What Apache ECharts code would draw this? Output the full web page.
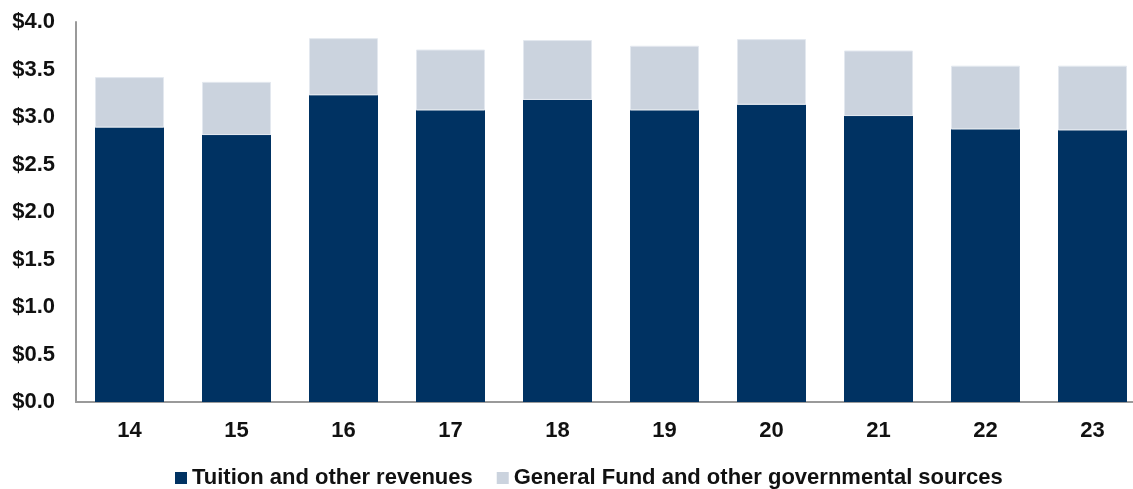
<!DOCTYPE html>
<html>
<head>
<meta charset="utf-8">
<script src="https://cdn.jsdelivr.net/npm/echarts@6/dist/echarts.min.js"></script>
<style>
  html, body { margin: 0; padding: 0; background: #ffffff; overflow: hidden; }
  #wrap { width: 1133px; height: 489px; overflow: hidden; }
  /* the plot runs slightly past the right edge of the frame */
  #chart { width: 1146px; height: 489px; }
</style>
</head>
<body>
<div id="wrap"><div id="chart"></div></div>
<script>
// Fiscal years (two-digit)
const years = ['14', '15', '16', '17', '18', '19', '20', '21', '22', '23'];
// Tuition and other revenues ($ billions)
const tuition = [2.89, 2.81, 3.23, 3.07, 3.18, 3.07, 3.13, 3.01, 2.87, 2.86];
// General Fund and other governmental sources ($ billions)
const generalFund = [0.53, 0.56, 0.60, 0.64, 0.63, 0.68, 0.69, 0.69, 0.67, 0.68];
// Value axis ticks
const yMin = 0, yMax = 4, yStep = 0.5;

const font = '"Liberation Sans", Arial, sans-serif';

const chart = echarts.init(document.getElementById('chart'), null, { renderer: 'canvas' });
chart.setOption({
  animation: false,
  backgroundColor: '#ffffff',
  grid: { left: 76, right: 0, top: 22, bottom: 87, containLabel: false },
  legend: {
    left: 170,
    top: 462,
    itemWidth: 12,
    itemHeight: 12,
    itemGap: 24,
    icon: 'rect',
    itemStyle: { borderWidth: 0 },
    textStyle: { fontFamily: font, fontSize: 22, fontWeight: 'bold', color: '#111111' },
    data: ['Tuition and other revenues', 'General Fund and other governmental sources']
  },
  xAxis: {
    type: 'category',
    data: years,
    axisLine: { show: true, lineStyle: { color: '#9a9a9a', width: 2 } },
    axisTick: { show: false },
    axisLabel: { margin: 18, fontFamily: font, fontSize: 22, fontWeight: 'bold', color: '#111111' }
  },
  yAxis: {
    type: 'value',
    min: yMin,
    max: yMax,
    interval: yStep,
    axisLine: { show: true, lineStyle: { color: '#9a9a9a', width: 2 } },
    axisTick: { show: false },
    splitLine: { show: false },
    axisLabel: {
      margin: 21,
      fontFamily: font,
      fontSize: 22,
      fontWeight: 'bold',
      color: '#111111',
      formatter: v => '$' + v.toFixed(1)
    }
  },
  series: [
    {
      name: 'Tuition and other revenues',
      type: 'bar',
      stack: 'total',
      barWidth: 69,
      data: tuition,
      itemStyle: { color: '#003262' }
    },
    {
      name: 'General Fund and other governmental sources',
      type: 'bar',
      stack: 'total',
      barWidth: 69,
      data: generalFund,
      itemStyle: { color: '#cbd3de', borderColor: '#e3e8ef', borderWidth: 1 }
    }
  ]
});
</script>
</body>
</html>
